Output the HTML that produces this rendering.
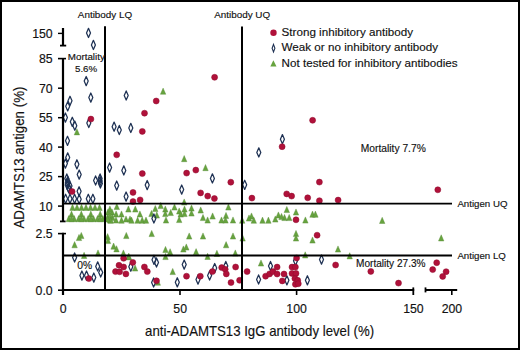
<!DOCTYPE html>
<html><head><meta charset="utf-8"><style>
html,body{margin:0;padding:0;background:#fff;}
body{width:520px;height:350px;position:relative;overflow:hidden;}
#frame{position:absolute;left:0;top:0;width:520px;height:350px;box-sizing:border-box;border:2px solid #000;}
svg{position:absolute;left:0;top:0;}
text{font-family:"Liberation Sans", sans-serif;fill:#111;stroke:#111;stroke-width:0.15px;}
</style></head><body>
<div id="frame"></div>
<svg width="520" height="350" viewBox="0 0 520 350">

<g fill="#67a33f" stroke="#568a36" stroke-width="0.4"><path d="M163.1 88.10L165.80 94.30L160.40 94.30Z"/><path d="M76.9 128.70L79.60 134.90L74.20 134.90Z"/><path d="M184.2 155.50L186.90 161.70L181.50 161.70Z"/><path d="M205.5 164.50L208.20 170.70L202.80 170.70Z"/><path d="M72.5 204.20L75.20 210.40L69.80 210.40Z"/><path d="M77.0 204.20L79.70 210.40L74.30 210.40Z"/><path d="M81.5 204.20L84.20 210.40L78.80 210.40Z"/><path d="M86.0 204.20L88.70 210.40L83.30 210.40Z"/><path d="M90.5 204.20L93.20 210.40L87.80 210.40Z"/><path d="M95.0 204.20L97.70 210.40L92.30 210.40Z"/><path d="M99.5 204.20L102.20 210.40L96.80 210.40Z"/><path d="M71.5 211.00L74.20 217.20L68.80 217.20Z"/><path d="M68.8 215.50L71.50 221.70L66.10 221.70Z"/><path d="M74.2 215.50L76.90 221.70L71.50 221.70Z"/><path d="M81.3 211.00L84.00 217.20L78.60 217.20Z"/><path d="M78.6 215.50L81.30 221.70L75.90 221.70Z"/><path d="M84.0 215.50L86.70 221.70L81.30 221.70Z"/><path d="M90.8 211.00L93.50 217.20L88.10 217.20Z"/><path d="M88.1 215.50L90.80 221.70L85.40 221.70Z"/><path d="M93.5 215.50L96.20 221.70L90.80 221.70Z"/><path d="M100.2 211.00L102.90 217.20L97.50 217.20Z"/><path d="M97.5 215.50L100.20 221.70L94.80 221.70Z"/><path d="M102.9 215.50L105.60 221.70L100.20 221.70Z"/><path d="M71.5 215.50L74.20 221.70L68.80 221.70Z"/><path d="M81.3 215.50L84.00 221.70L78.60 221.70Z"/><path d="M90.8 215.50L93.50 221.70L88.10 221.70Z"/><path d="M100.2 215.50L102.90 221.70L97.50 221.70Z"/><path d="M108.0 208.90L110.70 215.10L105.30 215.10Z"/><path d="M112.0 208.90L114.70 215.10L109.30 215.10Z"/><path d="M107.5 214.40L110.20 220.60L104.80 220.60Z"/><path d="M112.5 214.40L115.20 220.60L109.80 220.60Z"/><path d="M110.0 216.90L112.70 223.10L107.30 223.10Z"/><path d="M109.9 205.90L112.60 212.10L107.20 212.10Z"/><path d="M116.8 203.40L119.50 209.60L114.10 209.60Z"/><path d="M128.4 205.90L131.10 212.10L125.70 212.10Z"/><path d="M135.3 205.90L138.00 212.10L132.60 212.10Z"/><path d="M116.1 210.90L118.80 217.10L113.40 217.10Z"/><path d="M121.5 210.90L124.20 217.10L118.80 217.10Z"/><path d="M109.9 211.90L112.60 218.10L107.20 218.10Z"/><path d="M139.9 210.90L142.60 217.10L137.20 217.10Z"/><path d="M126.0 215.90L128.70 222.10L123.30 222.10Z"/><path d="M130.0 215.90L132.70 222.10L127.30 222.10Z"/><path d="M110.7 217.10L113.40 223.30L108.00 223.30Z"/><path d="M116.0 216.90L118.70 223.10L113.30 223.10Z"/><path d="M121.5 217.10L124.20 223.30L118.80 223.30Z"/><path d="M131.5 217.10L134.20 223.30L128.80 223.30Z"/><path d="M137.6 217.10L140.30 223.30L134.90 223.30Z"/><path d="M142.2 217.10L144.90 223.30L139.50 223.30Z"/><path d="M107.6 215.90L110.30 222.10L104.90 222.10Z"/><path d="M155.3 205.40L158.00 211.60L152.60 211.60Z"/><path d="M160.7 202.40L163.40 208.60L158.00 208.60Z"/><path d="M165.3 205.90L168.00 212.10L162.60 212.10Z"/><path d="M174.5 203.90L177.20 210.10L171.80 210.10Z"/><path d="M179.2 207.90L181.90 214.10L176.50 214.10Z"/><path d="M151.5 210.40L154.20 216.60L148.80 216.60Z"/><path d="M156.8 211.90L159.50 218.10L154.10 218.10Z"/><path d="M165.3 210.40L168.00 216.60L162.60 216.60Z"/><path d="M170.7 209.40L173.40 215.60L168.00 215.60Z"/><path d="M146.0 217.10L148.70 223.30L143.30 223.30Z"/><path d="M166.0 216.90L168.70 223.10L163.30 223.10Z"/><path d="M179.2 216.40L181.90 222.60L176.50 222.60Z"/><path d="M180.7 210.90L183.40 217.10L178.00 217.10Z"/><path d="M184.2 198.90L186.90 205.10L181.50 205.10Z"/><path d="M184.5 205.90L187.20 212.10L181.80 212.10Z"/><path d="M184.5 210.40L187.20 216.60L181.80 216.60Z"/><path d="M191.5 204.90L194.20 211.10L188.80 211.10Z"/><path d="M191.5 209.90L194.20 216.10L188.80 216.10Z"/><path d="M200.7 206.90L203.40 213.10L198.00 213.10Z"/><path d="M203.0 214.40L205.70 220.60L200.30 220.60Z"/><path d="M207.6 216.90L210.30 223.10L204.90 223.10Z"/><path d="M212.6 212.90L215.30 219.10L209.90 219.10Z"/><path d="M221.5 216.90L224.20 223.10L218.80 223.10Z"/><path d="M228.4 203.90L231.10 210.10L225.70 210.10Z"/><path d="M226.0 212.40L228.70 218.60L223.30 218.60Z"/><path d="M225.5 216.90L228.20 223.10L222.80 223.10Z"/><path d="M233.0 216.90L235.70 223.10L230.30 223.10Z"/><path d="M242.2 217.10L244.90 223.30L239.50 223.30Z"/><path d="M251.5 212.90L254.20 219.10L248.80 219.10Z"/><path d="M253.8 217.10L256.50 223.30L251.10 223.30Z"/><path d="M249.0 214.90L251.70 221.10L246.30 221.10Z"/><path d="M262.5 217.10L265.20 223.30L259.80 223.30Z"/><path d="M268.4 217.10L271.10 223.30L265.70 223.30Z"/><path d="M275.3 215.90L278.00 222.10L272.60 222.10Z"/><path d="M278.4 211.90L281.10 218.10L275.70 218.10Z"/><path d="M286.8 206.40L289.50 212.60L284.10 212.60Z"/><path d="M284.5 214.40L287.20 220.60L281.80 220.60Z"/><path d="M289.2 214.40L291.90 220.60L286.50 220.60Z"/><path d="M296.0 208.90L298.70 215.10L293.30 215.10Z"/><path d="M281.5 213.40L284.20 219.60L278.80 219.60Z"/><path d="M305.4 216.90L308.10 223.10L302.70 223.10Z"/><path d="M312.5 211.10L315.20 217.30L309.80 217.30Z"/><path d="M315.4 211.10L318.10 217.30L312.70 217.30Z"/><path d="M382.2 217.30L384.90 223.50L379.50 223.50Z"/><path d="M81.3 232.40L84.00 238.60L78.60 238.60Z"/><path d="M79.0 234.40L81.70 240.60L76.30 240.60Z"/><path d="M74.6 241.60L77.30 247.80L71.90 247.80Z"/><path d="M98.0 249.90L100.70 256.10L95.30 256.10Z"/><path d="M84.1 252.30L86.80 258.50L81.40 258.50Z"/><path d="M107.6 233.60L110.30 239.80L104.90 239.80Z"/><path d="M108.0 237.40L110.70 243.60L105.30 243.60Z"/><path d="M113.6 243.00L116.30 249.20L110.90 249.20Z"/><path d="M116.5 245.70L119.20 251.90L113.80 251.90Z"/><path d="M123.4 249.90L126.10 256.10L120.70 256.10Z"/><path d="M126.3 232.40L129.00 238.60L123.60 238.60Z"/><path d="M151.7 230.40L154.40 236.60L149.00 236.60Z"/><path d="M165.5 246.40L168.20 252.60L162.80 252.60Z"/><path d="M170.1 248.70L172.80 254.90L167.40 254.90Z"/><path d="M165.5 253.40L168.20 259.60L162.80 259.60Z"/><path d="M128.6 253.70L131.30 259.90L125.90 259.90Z"/><path d="M183.4 245.90L186.10 252.10L180.70 252.10Z"/><path d="M189.2 232.90L191.90 239.10L186.50 239.10Z"/><path d="M203.0 232.90L205.70 239.10L200.30 239.10Z"/><path d="M233.0 232.90L235.70 239.10L230.30 239.10Z"/><path d="M186.3 243.90L189.00 250.10L183.60 250.10Z"/><path d="M226.1 241.60L228.80 247.80L223.40 247.80Z"/><path d="M196.1 248.60L198.80 254.80L193.40 254.80Z"/><path d="M216.9 250.30L219.60 256.50L214.20 256.50Z"/><path d="M235.3 249.90L238.00 256.10L232.60 256.10Z"/><path d="M207.6 253.30L210.30 259.50L204.90 259.50Z"/><path d="M242.6 234.90L245.30 241.10L239.90 241.10Z"/><path d="M296.0 230.40L298.70 236.60L293.30 236.60Z"/><path d="M296.0 234.90L298.70 241.10L293.30 241.10Z"/><path d="M312.5 236.90L315.20 243.10L309.80 243.10Z"/><path d="M338.0 245.90L340.70 252.10L335.30 252.10Z"/><path d="M305.2 251.80L307.90 258.00L302.50 258.00Z"/><path d="M349.7 252.70L352.40 258.90L347.00 258.90Z"/><path d="M441.2 234.80L443.90 241.00L438.50 241.00Z"/><path d="M135.1 264.90L137.80 271.10L132.40 271.10Z"/><path d="M128.8 253.20L131.50 259.40L126.10 259.40Z"/><path d="M172.7 268.40L175.40 274.60L170.00 274.60Z"/><path d="M157.8 279.10L160.50 285.30L155.10 285.30Z"/><path d="M261.0 259.90L263.70 266.10L258.30 266.10Z"/></g>
<g fill="none" stroke="#1f3254" stroke-width="1.25" stroke-linejoin="round"><path d="M88.5 28.299999999999997L90.5 32.9L88.5 37.5L86.5 32.9Z"/><path d="M93.4 40.3L95.4 44.9L93.4 49.5L91.4 44.9Z"/><path d="M86.2 76.5L88.2 81.1L86.2 85.69999999999999L84.2 81.1Z"/><path d="M90.8 93.0L92.8 97.6L90.8 102.19999999999999L88.8 97.6Z"/><path d="M70.0 96.2L72.0 100.8L70.0 105.39999999999999L68.0 100.8Z"/><path d="M67.7 101.7L69.7 106.3L67.7 110.89999999999999L65.7 106.3Z"/><path d="M65.4 113.0L67.4 117.6L65.4 122.19999999999999L63.400000000000006 117.6Z"/><path d="M72.3 117.2L74.3 121.8L72.3 126.39999999999999L70.3 121.8Z"/><path d="M74.8 121.10000000000001L76.8 125.7L74.8 130.3L72.8 125.7Z"/><path d="M88.8 118.4L90.8 123.0L88.8 127.6L86.8 123.0Z"/><path d="M67.5 136.20000000000002L69.5 140.8L67.5 145.4L65.5 140.8Z"/><path d="M67.7 152.8L69.7 157.4L67.7 162.0L65.7 157.4Z"/><path d="M65.4 159.0L67.4 163.6L65.4 168.2L63.400000000000006 163.6Z"/><path d="M76.9 159.70000000000002L78.9 164.3L76.9 168.9L74.9 164.3Z"/><path d="M79.2 170.0L81.2 174.6L79.2 179.2L77.2 174.6Z"/><path d="M66.8 173.9L68.8 178.5L66.8 183.1L64.8 178.5Z"/><path d="M67.3 178.4L69.3 183.0L67.3 187.6L65.3 183.0Z"/><path d="M69.4 184.70000000000002L71.4 189.3L69.4 193.9L67.4 189.3Z"/><path d="M67.8 176.4L69.8 181.0L67.8 185.6L65.8 181.0Z"/><path d="M67.2 180.4L69.2 185.0L67.2 189.6L65.2 185.0Z"/><path d="M68.6 183.20000000000002L70.6 187.8L68.6 192.4L66.6 187.8Z"/><path d="M70.0 181.4L72.0 186.0L70.0 190.6L68.0 186.0Z"/><path d="M79.1 186.70000000000002L81.1 191.3L79.1 195.9L77.1 191.3Z"/><path d="M65.6 194.20000000000002L67.6 198.8L65.6 203.4L63.599999999999994 198.8Z"/><path d="M70.0 194.20000000000002L72.0 198.8L70.0 203.4L68.0 198.8Z"/><path d="M74.6 194.20000000000002L76.6 198.8L74.6 203.4L72.6 198.8Z"/><path d="M79.2 194.6L81.2 199.2L79.2 203.79999999999998L77.2 199.2Z"/><path d="M88.3 194.20000000000002L90.3 198.8L88.3 203.4L86.3 198.8Z"/><path d="M92.9 194.20000000000002L94.9 198.8L92.9 203.4L90.9 198.8Z"/><path d="M95.6 175.9L97.6 180.5L95.6 185.1L93.6 180.5Z"/><path d="M100.1 173.9L102.1 178.5L100.1 183.1L98.1 178.5Z"/><path d="M100.4 178.9L102.4 183.5L100.4 188.1L98.4 183.5Z"/><path d="M100.2 176.4L102.2 181.0L100.2 185.6L98.2 181.0Z"/><path d="M126.2 90.9L128.2 95.5L126.2 100.1L124.2 95.5Z"/><path d="M114.1 122.10000000000001L116.1 126.7L114.1 131.3L112.1 126.7Z"/><path d="M119.3 125.4L121.3 130.0L119.3 134.6L117.3 130.0Z"/><path d="M130.8 123.30000000000001L132.8 127.9L130.8 132.5L128.8 127.9Z"/><path d="M109.6 163.0L111.6 167.6L109.6 172.2L107.6 167.6Z"/><path d="M123.8 165.8L125.8 170.4L123.8 175.0L121.8 170.4Z"/><path d="M116.7 181.0L118.7 185.6L116.7 190.2L114.7 185.6Z"/><path d="M147.2 180.5L149.2 185.1L147.2 189.7L145.2 185.1Z"/><path d="M126.1 192.0L128.1 196.6L126.1 201.2L124.1 196.6Z"/><path d="M212.4 173.8L214.4 178.4L212.4 183.0L210.4 178.4Z"/><path d="M181.7 185.0L183.7 189.6L181.7 194.2L179.7 189.6Z"/><path d="M153.9 213.9L155.9 218.5L153.9 223.1L151.9 218.5Z"/><path d="M282.4 134.6L284.4 139.2L282.4 143.79999999999998L280.4 139.2Z"/><path d="M258.8 147.8L260.8 152.4L258.8 157.0L256.8 152.4Z"/><path d="M244.7 180.20000000000002L246.7 184.8L244.7 189.4L242.7 184.8Z"/><path d="M74.6 252.9L76.6 257.5L74.6 262.1L72.6 257.5Z"/><path d="M81.9 271.0L83.9 275.6L81.9 280.20000000000005L79.9 275.6Z"/><path d="M86.5 271.0L88.5 275.6L86.5 280.20000000000005L84.5 275.6Z"/><path d="M93.8 273.0L95.8 277.6L93.8 282.20000000000005L91.8 277.6Z"/><path d="M97.7 261.79999999999995L99.7 266.4L97.7 271.0L95.7 266.4Z"/><path d="M100.7 267.9L102.7 272.5L100.7 277.1L98.7 272.5Z"/><path d="M130.8 262.09999999999997L132.8 266.7L130.8 271.3L128.8 266.7Z"/><path d="M154.0 255.20000000000002L156.0 259.8L154.0 264.40000000000003L152.0 259.8Z"/><path d="M156.5 257.9L158.5 262.5L156.5 267.1L154.5 262.5Z"/><path d="M153.6 277.9L155.6 282.5L153.6 287.1L151.6 282.5Z"/><path d="M184.2 260.0L186.2 264.6L184.2 269.20000000000005L182.2 264.6Z"/><path d="M177.3 277.7L179.3 282.3L177.3 286.90000000000003L175.3 282.3Z"/><path d="M198.0 275.0L200.0 279.6L198.0 284.20000000000005L196.0 279.6Z"/><path d="M209.6 270.9L211.6 275.5L209.6 280.1L207.6 275.5Z"/><path d="M214.7 263.5L216.7 268.1L214.7 272.70000000000005L212.7 268.1Z"/><path d="M225.8 261.4L227.8 266.0L225.8 270.6L223.8 266.0Z"/><path d="M270.5 261.4L272.5 266.0L270.5 270.6L268.5 266.0Z"/><path d="M258.6 274.9L260.6 279.5L258.6 284.1L256.6 279.5Z"/><path d="M295.5 256.2L297.5 260.8L295.5 265.40000000000003L293.5 260.8Z"/><path d="M286.9 275.7L288.9 280.3L286.9 284.90000000000003L284.9 280.3Z"/><path d="M307.4 275.7L309.4 280.3L307.4 284.90000000000003L305.4 280.3Z"/><path d="M321.5 255.00000000000003L323.5 259.6L321.5 264.20000000000005L319.5 259.6Z"/></g>
<g fill="#b0113a" stroke="#8e0b2d" stroke-width="0.5"><circle cx="90.9" cy="119.1" r="3.0"/><circle cx="214.6" cy="77.3" r="3.0"/><circle cx="156.2" cy="101.0" r="3.0"/><circle cx="144.5" cy="113.2" r="3.0"/><circle cx="142.3" cy="131.4" r="3.0"/><circle cx="116.7" cy="154.8" r="3.0"/><circle cx="142.3" cy="173.6" r="3.0"/><circle cx="186.6" cy="173.1" r="3.0"/><circle cx="195.8" cy="170.1" r="3.0"/><circle cx="230.8" cy="182.2" r="3.0"/><circle cx="200.6" cy="192.9" r="3.0"/><circle cx="207.7" cy="196.1" r="3.0"/><circle cx="214.4" cy="198.5" r="3.0"/><circle cx="133.0" cy="192.4" r="3.0"/><circle cx="133.0" cy="201.6" r="3.0"/><circle cx="140.1" cy="199.9" r="3.0"/><circle cx="72.1" cy="191.6" r="3.0"/><circle cx="312.6" cy="120.3" r="3.0"/><circle cx="282.1" cy="146.7" r="3.0"/><circle cx="319.4" cy="182.1" r="3.0"/><circle cx="251.9" cy="198.1" r="3.0"/><circle cx="286.7" cy="193.9" r="3.0"/><circle cx="291.6" cy="196.1" r="3.0"/><circle cx="307.7" cy="197.8" r="3.0"/><circle cx="319.4" cy="200.7" r="3.0"/><circle cx="338.1" cy="200.1" r="3.0"/><circle cx="437.8" cy="189.8" r="3.0"/><circle cx="317.1" cy="235.2" r="3.0"/><circle cx="296.0" cy="219.8" r="3.0"/><circle cx="88.8" cy="278.6" r="3.0"/><circle cx="123.6" cy="258.3" r="3.0"/><circle cx="119.0" cy="265.3" r="3.0"/><circle cx="123.6" cy="267.0" r="3.0"/><circle cx="115.5" cy="271.6" r="3.0"/><circle cx="119.6" cy="271.8" r="3.0"/><circle cx="125.9" cy="273.9" r="3.0"/><circle cx="132.8" cy="262.4" r="3.0"/><circle cx="144.4" cy="267.0" r="3.0"/><circle cx="147.3" cy="271.6" r="3.0"/><circle cx="156.5" cy="280.8" r="3.0"/><circle cx="186.5" cy="276.2" r="3.0"/><circle cx="200.3" cy="276.2" r="3.0"/><circle cx="212.4" cy="271.6" r="3.0"/><circle cx="221.7" cy="267.6" r="3.0"/><circle cx="225.2" cy="269.3" r="3.0"/><circle cx="226.3" cy="273.9" r="3.0"/><circle cx="235.6" cy="267.0" r="3.0"/><circle cx="231.0" cy="282.6" r="3.0"/><circle cx="239.6" cy="280.3" r="3.0"/><circle cx="247.1" cy="271.6" r="3.0"/><circle cx="265.6" cy="276.2" r="3.0"/><circle cx="269.6" cy="273.9" r="3.0"/><circle cx="273.0" cy="271.6" r="3.0"/><circle cx="277.1" cy="267.1" r="3.0"/><circle cx="277.1" cy="274.0" r="3.0"/><circle cx="284.0" cy="274.0" r="3.0"/><circle cx="282.3" cy="280.9" r="3.0"/><circle cx="296.6" cy="258.0" r="3.0"/><circle cx="292.0" cy="267.1" r="3.0"/><circle cx="295.4" cy="267.1" r="3.0"/><circle cx="292.0" cy="273.4" r="3.0"/><circle cx="296.0" cy="273.4" r="3.0"/><circle cx="294.9" cy="278.6" r="3.0"/><circle cx="297.7" cy="280.3" r="3.0"/><circle cx="295.4" cy="284.3" r="3.0"/><circle cx="298.3" cy="283.7" r="3.0"/><circle cx="335.6" cy="265.0" r="3.0"/><circle cx="370.8" cy="271.4" r="3.0"/><circle cx="398.5" cy="283.1" r="3.0"/><circle cx="436.7" cy="262.7" r="3.0"/><circle cx="432.7" cy="269.6" r="3.0"/><circle cx="446.1" cy="271.7" r="3.0"/><circle cx="442.7" cy="276.4" r="3.0"/></g>
<g stroke="#000" fill="none">
<line x1="105" y1="26.3" x2="105" y2="290" stroke-width="2"/>
<line x1="242" y1="26.6" x2="242" y2="290" stroke-width="2"/>
<line x1="63" y1="203.6" x2="452" y2="203.6" stroke-width="1.8"/>
<line x1="63" y1="255.5" x2="452" y2="255.5" stroke-width="1.8"/>
</g>
<g stroke="#000" fill="none">
<line x1="63" y1="28" x2="63" y2="46" stroke-width="2.2"/>
<line x1="60" y1="45.6" x2="66.2" y2="45.6" stroke-width="1.8"/>
<line x1="58" y1="33.4" x2="63" y2="33.4" stroke-width="1.4"/>
<line x1="63" y1="58" x2="63" y2="222" stroke-width="2.2"/>
<line x1="58" y1="58.6" x2="66" y2="58.6" stroke-width="1.6"/>
<line x1="58" y1="88.2" x2="63" y2="88.2" stroke-width="1.5"/>
<line x1="58" y1="117.7" x2="63" y2="117.7" stroke-width="1.5"/>
<line x1="58" y1="147.1" x2="63" y2="147.1" stroke-width="1.5"/>
<line x1="58" y1="176.6" x2="63" y2="176.6" stroke-width="1.5"/>
<line x1="58" y1="206.1" x2="63" y2="206.1" stroke-width="1.5"/>
<line x1="60" y1="221.4" x2="65.6" y2="221.4" stroke-width="1.8"/>
<line x1="63" y1="232.8" x2="63" y2="295" stroke-width="2.2"/>
<line x1="58" y1="233.6" x2="66" y2="233.6" stroke-width="1.6"/>
<line x1="58" y1="290.2" x2="63" y2="290.2" stroke-width="1.6"/>
<line x1="62" y1="290" x2="414.2" y2="290" stroke-width="2.2"/>
<line x1="413.3" y1="287.4" x2="413.3" y2="295" stroke-width="1.8"/>
<line x1="425.4" y1="290" x2="457.2" y2="290" stroke-width="2.2"/>
<line x1="425.5" y1="287.4" x2="425.5" y2="292.4" stroke-width="1.8"/>
<line x1="180.0" y1="290" x2="180.0" y2="295" stroke-width="1.6"/>
<line x1="296.6" y1="290" x2="296.6" y2="295" stroke-width="1.6"/>
<line x1="451.8" y1="290" x2="451.8" y2="295" stroke-width="1.6"/>
</g>
<text x="52.7" y="38.2" font-size="12.3" text-anchor="end" >150</text>
<text x="52.7" y="63.4" font-size="12.3" text-anchor="end" >85</text>
<text x="52.7" y="92.8" font-size="12.3" text-anchor="end" >70</text>
<text x="52.7" y="122.19999999999999" font-size="12.3" text-anchor="end" >55</text>
<text x="52.7" y="151.6" font-size="12.3" text-anchor="end" >40</text>
<text x="52.7" y="181.1" font-size="12.3" text-anchor="end" >25</text>
<text x="52.7" y="210.5" font-size="12.3" text-anchor="end" >10</text>
<text x="52.7" y="238.2" font-size="12.3" text-anchor="end" >2.5</text>
<text x="52.7" y="295.0" font-size="12.3" text-anchor="end" >0.0</text>
<text x="63.2" y="312.6" font-size="12.3" text-anchor="middle" >0</text>
<text x="180.2" y="312.6" font-size="12.3" text-anchor="middle" >50</text>
<text x="296.6" y="312.6" font-size="12.3" text-anchor="middle" >100</text>
<text x="413.4" y="312.6" font-size="12.3" text-anchor="middle" >150</text>
<text x="451.9" y="312.6" font-size="12.3" text-anchor="middle" >200</text>
<text x="259.6" y="335.8" font-size="14.5" text-anchor="middle" textLength="229" lengthAdjust="spacingAndGlyphs">anti-ADAMTS13 IgG antibody level (%)</text>
<text x="0" y="0" font-size="14.5" text-anchor="middle" textLength="142" lengthAdjust="spacingAndGlyphs" transform="translate(23.6 157.6) rotate(-90)">ADAMTS13 antigen (%)</text>
<text x="105" y="18.0" font-size="9.9" text-anchor="middle" >Antibody LQ</text>
<text x="242.2" y="18.0" font-size="9.9" text-anchor="middle" >Antibody UQ</text>
<text x="281.6" y="36.0" font-size="11.65" text-anchor="start" >Strong inhibitory antibody</text>
<text x="281.6" y="51.3" font-size="11.65" text-anchor="start" >Weak or no inhibitory antibody</text>
<text x="281.6" y="66.6" font-size="11.65" text-anchor="start" >Not tested for inhibitory antibodies</text>
<text x="86.3" y="59.7" font-size="9.5" text-anchor="middle" textLength="37" lengthAdjust="spacingAndGlyphs">Mortality</text>
<text x="86.1" y="71.5" font-size="9.4" text-anchor="middle" textLength="22.2" lengthAdjust="spacingAndGlyphs">5.6%</text>
<text x="393.3" y="152.2" font-size="10.25" text-anchor="middle" >Mortality 7.7%</text>
<text x="390.8" y="266.5" font-size="10.1" text-anchor="middle" >Mortality 27.3%</text>
<text x="84.8" y="269.0" font-size="10.3" text-anchor="middle" >0%</text>
<text x="457.4" y="207.3" font-size="9.7" text-anchor="start" >Antigen UQ</text>
<text x="457.4" y="259.2" font-size="9.7" text-anchor="start" >Antigen LQ</text>
<circle cx="273.5" cy="32.7" r="3.2" fill="#b0113a"/>
<path d="M273.5 44.4L274.9 48.2L273.5 52L272.1 48.2Z" fill="none" stroke="#1f3254" stroke-width="1.1"/>
<path d="M273.4 60.3L276.5 66.4L270.3 66.4Z" fill="#67a33f"/>
</svg>
</body></html>
